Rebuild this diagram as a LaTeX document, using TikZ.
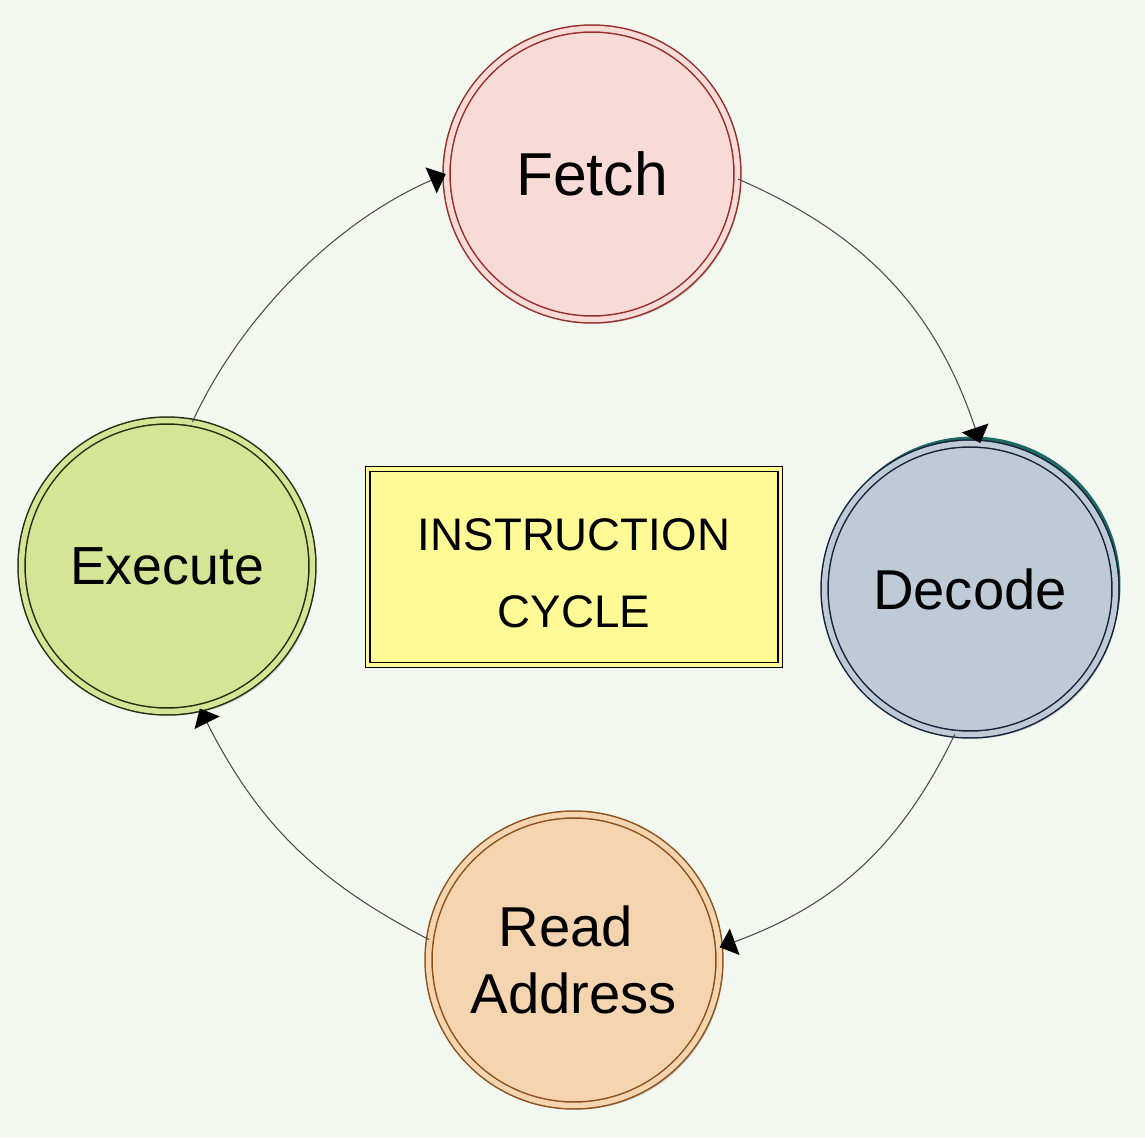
\documentclass[tikz,border=0pt]{standalone}
\usepackage{fontspec}
\setmainfont{Liberation Sans}
\usetikzlibrary{arrows.meta,shadows}
\definecolor{bg}{RGB}{242,248,240}
\definecolor{fetchfill}{RGB}{248,218,214}
\definecolor{fetchline}{RGB}{150,45,40}
\definecolor{decfill}{RGB}{190,203,215}
\definecolor{decline}{RGB}{20,35,60}
\definecolor{dectail}{RGB}{30,105,100}
\definecolor{exefill}{RGB}{214,228,150}
\definecolor{exeline}{RGB}{35,45,15}
\definecolor{readfill}{RGB}{245,213,176}
\definecolor{readline}{RGB}{140,80,25}
\definecolor{boxfill}{RGB}{255,250,150}
\definecolor{conn}{RGB}{75,75,75}
\begin{document}
\begin{tikzpicture}[x=0.02cm,y=-0.02cm,
  stage/.style={circle, minimum size=5.82cm, inner sep=0pt, line width=0.85pt,
    double distance=0.11cm, align=center,
    drop shadow={shadow xshift=0.07cm, shadow yshift=-0.08cm, opacity=0.35, fill=black!55},
    font=\fontsize{32}{38.5}\selectfont},
  titlebox/.style={rectangle, minimum width=8.26cm, minimum height=3.93cm, inner sep=0pt,
    fill=boxfill, draw=black, line width=0.7pt, double=boxfill, double distance=0.07cm},
  titletext/.style={align=center, inner sep=0pt, font=\fontsize{26}{44}\selectfont},
  conn/.style={draw=conn, line width=0.6pt,
    -{Triangle[length=0.32cm,width=0.56cm,fill=black,color=black]}}
]
\fill[bg] (0,0) rectangle (1145,1137);
\useasboundingbox (0,0) rectangle (1145,1137);

\fill[dectail] (972.5,584.5) circle[radius=2.96cm];
\node[stage, fill=decfill, draw=decline, double=decfill] (dec) at (970,589) {Decode};
\node[stage, fill=fetchfill, draw=fetchline, double=fetchfill, font=\fontsize{34.5}{40}\selectfont] (fetch) at (592,174) {Fetch};
\node[stage, fill=exefill, draw=exeline, double=exefill, font=\fontsize{30.5}{37}\selectfont] (exe) at (167,566) {Execute};
\node[stage, fill=readfill, draw=readline, double=readfill] (read) at (574,960) {Read\hspace*{0.32cm}\\Address};

\node[titlebox] (title) at (574,567) {};
\node[titletext] (titlelabel) at (574,573) {INSTRUCTION\\CYCLE};

\draw[conn] (exe.80) to[bend left=21, looseness=0.85] (fetch.180);
\draw[conn] (fetch.-2) to[bend left=24] (dec.86);
\draw[conn] (dec.-96) to[bend left=22] (read.5);
\draw[conn] (read.172) to[bend left=18] (exe.-77);
\end{tikzpicture}
\end{document}
